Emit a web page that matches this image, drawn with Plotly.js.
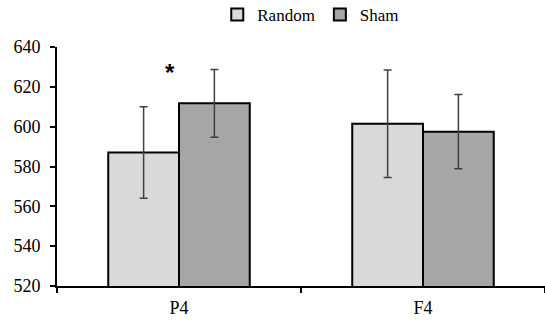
<!DOCTYPE html>
<html><head><meta charset="utf-8">
<script src="https://cdn.plot.ly/plotly-3.0.1.min.js"></script>
<style>body{margin:0;background:#fff}#c{width:545px;height:321px}</style>
</head><body><div id="c"></div>
<script>
const categories = ['P4', 'F4'];
const randomValues = [587, 601.5];
const randomErrors = [23, 27];
const shamValues = [611.7, 597.5];
const shamErrors = [17, 18.6];
const yTicks = [520, 540, 560, 580, 600, 620, 640];

const mk = (name, y, err, color) => ({
  type: 'bar', name: name, x: categories, y: y,
  marker: {color: color, line: {color: '#000', width: 2}},
  error_y: {type: 'data', array: err, visible: true, color: '#404040', thickness: 1.5, width: 4}
});
const data = [
  mk('Random', randomValues, randomErrors, '#d9d9d9'),
  mk('Sham', shamValues, shamErrors, '#a6a6a6')
];
const serif = "'Liberation Serif', 'Times New Roman', Times, serif";
const layout = {
  width: 545, height: 321,
  margin: {l: 57, r: 0, t: 47, b: 35, autoexpand: false},
  paper_bgcolor: '#fff', plot_bgcolor: '#fff',
  font: {family: serif, size: 18, color: '#000'},
  barmode: 'group', bargap: 0.42, bargroupgap: 0,
  showlegend: true,
  legend: {orientation: 'h', x: 0.52, xanchor: 'center', y: 1.134, yanchor: 'middle',
           font: {size: 17, family: serif}, itemwidth: 30, tracegroupgap: 0},
  xaxis: {type: 'category', showline: true, linecolor: '#000', linewidth: 2,
          ticks: 'outside', tickson: 'boundaries', ticklen: 5, tickwidth: 2, tickcolor: '#000',
          tickfont: {family: serif, size: 18}, ticklabelstandoff: 4,
          showgrid: false, zeroline: false, fixedrange: true},
  yaxis: {range: [520, 640], tickvals: yTicks, ticktext: yTicks.map(String),
          showline: true, linecolor: '#000', linewidth: 2,
          tickfont: {family: serif, size: 18}, ticklabelstandoff: 6,
          ticks: 'outside', ticklen: 5, tickwidth: 2, tickcolor: '#000',
          showgrid: false, zeroline: false},
  annotations: [{x: 'P4', y: 627, xref: 'x', yref: 'y', text: '<b>*</b>', showarrow: false,
                 xshift: -9, font: {size: 24, family: "'Liberation Sans', Arial, sans-serif", color: '#000'}}]
};
Plotly.newPlot('c', data, layout, {displayModeBar: false, staticPlot: true});
</script></body></html>
